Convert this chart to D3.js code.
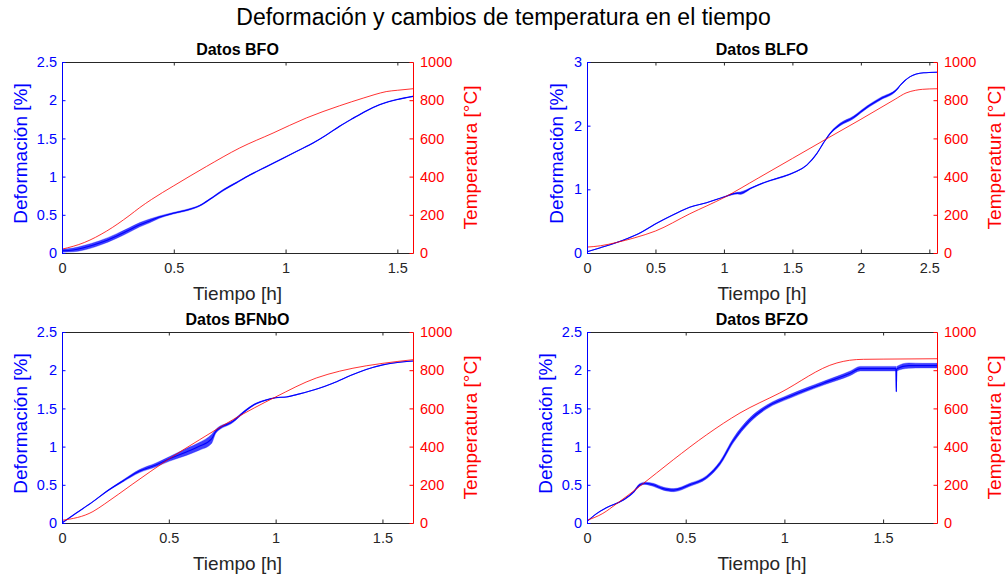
<!DOCTYPE html>
<html>
<head>
<meta charset="utf-8">
<script src="https://cdn.jsdelivr.net/npm/d3@7"></script>
<style>
  body { margin: 0; background: #fff; }
  svg { display: block; font-family: "Liberation Sans", Arial, Helvetica, sans-serif; }
</style>
</head>
<body>
<svg id="chart" width="1007" height="578"></svg>
<script>
// ---- Medidas: [tiempo (h), deformación (%), dispersión del ruido (%)] ----
const bfoDeformacion = [
  [0, 0.03, 0.02], [0.05, 0.04, 0.025], [0.093, 0.065, 0.03], [0.168, 0.13, 0.03],
  [0.243, 0.22, 0.03], [0.3, 0.3, 0.03], [0.348, 0.37, 0.028], [0.392, 0.42, 0.025],
  [0.436, 0.47, 0.015], [0.497, 0.52, 0.01], [0.556, 0.56, 0.01], [0.616, 0.62, 0.008],
  [0.67, 0.72, 0.008], [0.72, 0.82, 0.01], [0.78, 0.92, 0.008], [0.84, 1.02, 0.006],
  [0.914, 1.13, 0.005], [0.989, 1.24, 0.004], [1.056, 1.34, 0.004], [1.123, 1.44, 0.004],
  [1.18, 1.54, 0.004], [1.242, 1.66, 0.004], [1.3, 1.76, 0.004], [1.361, 1.86, 0.004],
  [1.42, 1.94, 0.004], [1.46, 1.98, 0.004], [1.5, 2.01, 0.004], [1.57, 2.05, 0.004]
];
const blfoDeformacion = [
  [0, 0.02, 0], [0.093, 0.08, 0], [0.263, 0.2, 0], [0.4, 0.33, 0], [0.495, 0.45, 0],
  [0.63, 0.6, 0], [0.75, 0.72, 0], [0.873, 0.79, 0], [1.0, 0.88, 0.005], [1.1, 0.94, 0.015],
  [1.12, 0.94, 0.02], [1.2, 1.02, 0.008], [1.312, 1.12, 0.005], [1.434, 1.2, 0.008],
  [1.507, 1.26, 0.005], [1.605, 1.38, 0], [1.678, 1.56, 0], [1.727, 1.73, 0],
  [1.776, 1.88, 0.01], [1.849, 2.02, 0.02], [1.946, 2.13, 0.02], [2.0, 2.22, 0.02],
  [2.044, 2.29, 0.02], [2.141, 2.42, 0.02], [2.263, 2.57, 0.01], [2.29, 2.64, 0],
  [2.36, 2.77, 0], [2.458, 2.83, 0], [2.556, 2.84, 0]
];
const bfnboDeformacion = [
  [0, 0.0, 0], [0.067, 0.13, 0], [0.145, 0.28, 0], [0.207, 0.41, 0.005], [0.285, 0.55, 0.012],
  [0.363, 0.68, 0.02], [0.44, 0.76, 0.025], [0.504, 0.84, 0.03], [0.582, 0.93, 0.045],
  [0.64, 1.0, 0.05], [0.7, 1.1, 0.06], [0.72, 1.2, 0.025], [0.8, 1.33, 0.015],
  [0.85, 1.45, 0.012], [0.9, 1.55, 0.008], [0.956, 1.61, 0.005], [1.0, 1.64, 0.003],
  [1.05, 1.65, 0], [1.112, 1.69, 0], [1.2, 1.76, 0], [1.268, 1.83, 0], [1.35, 1.93, 0],
  [1.424, 2.01, 0], [1.502, 2.07, 0], [1.643, 2.12, 0]
];
const bfzoDeformacion = [
  [0, 0.02, 0], [0.047, 0.12, 0], [0.098, 0.2, 0], [0.183, 0.3, 0.005], [0.234, 0.4, 0.01],
  [0.267, 0.5, 0.015], [0.293, 0.52, 0.015], [0.335, 0.5, 0.02], [0.386, 0.45, 0.02],
  [0.44, 0.43, 0.02], [0.521, 0.5, 0.02], [0.606, 0.6, 0.02], [0.673, 0.78, 0.025],
  [0.741, 1.08, 0.03], [0.826, 1.35, 0.03], [0.911, 1.52, 0.025], [1.029, 1.66, 0.025],
  [1.198, 1.83, 0.025], [1.334, 1.96, 0.03], [1.384, 2.02, 0.03], [1.5, 2.02, 0.03],
  [1.565, 2.02, 0.03], [1.567, 1.72, 0], [1.569, 2.02, 0.03], [1.63, 2.06, 0.035],
  [1.7, 2.06, 0.03], [1.773, 2.06, 0.03]
];

// ---- Medidas: [tiempo (h), temperatura (°C)] ----
const bfoTemperatura = [
  [0, 20], [0.1, 55], [0.2, 115], [0.3, 195], [0.348, 238], [0.4, 280], [0.5, 352],
  [0.646, 453], [0.795, 550], [0.944, 628], [1.093, 707], [1.242, 771], [1.35, 812],
  [1.4, 830], [1.45, 845], [1.5, 852], [1.57, 860]
];
const blfoTemperatura = [
  [0, 31], [0.1, 38], [0.215, 55], [0.35, 80], [0.5, 115], [0.75, 205], [1.0, 290],
  [1.25, 392], [1.5, 495], [1.75, 598], [2.0, 700], [2.25, 805], [2.33, 838],
  [2.4, 852], [2.45, 857], [2.556, 860]
];
const bfnboTemperatura = [
  [0, 14], [0.145, 60], [0.2, 100], [0.332, 205], [0.5, 335], [0.644, 436], [0.8, 541],
  [1.0, 660], [1.19, 759], [1.3, 795], [1.424, 823], [1.502, 836], [1.643, 855]
];
const bfzoTemperatura = [
  [0, 14], [0.08, 50], [0.149, 100], [0.267, 192], [0.437, 331], [0.606, 462],
  [0.775, 576], [0.977, 681], [1.266, 838], [1.33, 852], [1.4, 857], [1.5, 858], [1.773, 860]
];

// ---- Títulos, rangos y marcas de los ejes ----
const titulos = ["Datos BFO", "Datos BLFO", "Datos BFNbO", "Datos BFZO"];
const tiempoMax = [1.57, 2.556, 1.643, 1.773];
const deformacionMax = [2.5, 3, 2.5, 2.5];
const ticksTiempo = [
  [0, 0.5, 1, 1.5],
  [0, 0.5, 1, 1.5, 2, 2.5],
  [0, 0.5, 1, 1.5],
  [0, 0.5, 1, 1.5]
];
const ticksDeformacion = [
  [0, 0.5, 1, 1.5, 2, 2.5],
  [0, 1, 2, 3],
  [0, 0.5, 1, 1.5, 2, 2.5],
  [0, 0.5, 1, 1.5, 2, 2.5]
];
const ticksTemperatura = [0, 200, 400, 600, 800, 1000];
const temperaturaMax = 1000;
const deformaciones = [bfoDeformacion, blfoDeformacion, bfnboDeformacion, bfzoDeformacion];
const temperaturas = [bfoTemperatura, blfoTemperatura, bfnboTemperatura, bfzoTemperatura];

// ---- Disposición de los cuatro paneles ----
const cajas = [
  { x0: 62, x1: 413, y0: 62, y1: 253, etiquetaIzq: 35 },
  { x0: 587, x1: 937, y0: 62, y1: 253, etiquetaIzq: 24 },
  { x0: 62, x1: 413, y0: 332, y1: 523, etiquetaIzq: 35 },
  { x0: 587, x1: 937, y0: 332, y1: 523, etiquetaIzq: 35 }
];

const AZUL = "#0000ff";
const ROJO = "#ff0000";
const GRIS = "#262626";
const fmt = d => String(d);

const svg = d3.select("#chart");

svg.append("text")
  .attr("x", 503.5).attr("y", 25)
  .attr("text-anchor", "middle")
  .attr("font-size", 23)
  .attr("fill", "#000")
  .text("Deformación y cambios de temperatura en el tiempo");

cajas.forEach((c, i) => {
  const g = svg.append("g");
  const x = d3.scaleLinear().domain([0, tiempoMax[i]]).range([c.x0, c.x1]);
  const yL = d3.scaleLinear().domain([0, deformacionMax[i]]).range([c.y1, c.y0]);
  const yR = d3.scaleLinear().domain([0, temperaturaMax]).range([c.y1, c.y0]);

  // fondo del área de trazado
  g.append("rect").attr("x", c.x0).attr("y", c.y0)
    .attr("width", c.x1 - c.x0).attr("height", c.y1 - c.y0).attr("fill", "#fff");

  const clipId = "clip" + i;
  g.append("clipPath").attr("id", clipId).append("rect")
    .attr("x", c.x0).attr("y", c.y0 - 2).attr("width", c.x1 - c.x0).attr("height", c.y1 - c.y0 + 4);
  const plot = g.append("g").attr("clip-path", `url(#${clipId})`);

  // banda de ruido de la deformación
  const banda = d3.area()
    .x(d => x(d[0])).y0(d => yL(d[1] - d[2])).y1(d => yL(d[1] + d[2]))
    .curve(d3.curveMonotoneX);
  plot.append("path").datum(deformaciones[i])
    .attr("d", banda).attr("fill", AZUL).attr("fill-opacity", 0.75)
    .attr("stroke", AZUL).attr("stroke-width", 0.6).attr("stroke-opacity", 0.5);

  // curva de deformación
  plot.append("path").datum(deformaciones[i])
    .attr("d", d3.line().x(d => x(d[0])).y(d => yL(d[1])).curve(d3.curveMonotoneX))
    .attr("fill", "none").attr("stroke", AZUL).attr("stroke-width", 1.1);

  // curva de temperatura
  plot.append("path").datum(temperaturas[i])
    .attr("d", d3.line().x(d => x(d[0])).y(d => yR(d[1])).curve(d3.curveMonotoneX))
    .attr("fill", "none").attr("stroke", ROJO).attr("stroke-width", 1).attr("stroke-opacity", 0.8);

  // eje inferior
  const ejeX = g.append("g").attr("transform", `translate(0,${c.y1})`)
    .call(d3.axisBottom(x).tickValues(ticksTiempo[i]).tickFormat(fmt)
      .tickSizeInner(-3.5).tickSizeOuter(0).tickPadding(10));
  ejeX.select(".domain").attr("stroke", GRIS);
  ejeX.selectAll(".tick line").attr("stroke", GRIS);
  ejeX.selectAll(".tick text").attr("fill", GRIS).attr("font-size", 14.5).attr("font-family", null);

  // eje superior (solo marcas)
  const ejeTop = g.append("g").attr("transform", `translate(0,${c.y0})`)
    .call(d3.axisTop(x).tickValues(ticksTiempo[i]).tickFormat("")
      .tickSizeInner(-3.5).tickSizeOuter(0));
  ejeTop.select(".domain").attr("stroke", GRIS);
  ejeTop.selectAll(".tick line").attr("stroke", GRIS);

  // eje izquierdo: deformación
  const ejeL = g.append("g").attr("transform", `translate(${c.x0},0)`)
    .call(d3.axisLeft(yL).tickValues(ticksDeformacion[i]).tickFormat(fmt)
      .tickSizeInner(-3.5).tickSizeOuter(0).tickPadding(5));
  ejeL.select(".domain").attr("stroke", AZUL);
  ejeL.selectAll(".tick line").attr("stroke", AZUL);
  ejeL.selectAll(".tick text").attr("fill", AZUL).attr("font-size", 14.5).attr("font-family", null);

  // eje derecho: temperatura
  const ejeR = g.append("g").attr("transform", `translate(${c.x1},0)`)
    .call(d3.axisRight(yR).tickValues(ticksTemperatura).tickFormat(fmt)
      .tickSizeInner(-3.5).tickSizeOuter(0).tickPadding(7));
  ejeR.select(".domain").attr("stroke", ROJO);
  ejeR.selectAll(".tick line").attr("stroke", ROJO);
  ejeR.selectAll(".tick text").attr("fill", ROJO).attr("font-size", 14.5).attr("font-family", null);

  // título del panel
  g.append("text")
    .attr("x", (c.x0 + c.x1) / 2).attr("y", c.y0 - 7)
    .attr("text-anchor", "middle").attr("font-size", 16).attr("font-weight", "bold")
    .attr("fill", "#000").text(titulos[i]);

  // etiquetas de los ejes
  g.append("text")
    .attr("x", (c.x0 + c.x1) / 2).attr("y", c.y1 + 47)
    .attr("text-anchor", "middle").attr("font-size", 19).attr("fill", GRIS)
    .text("Tiempo [h]");

  const cy = (c.y0 + c.y1) / 2 - 4;
  g.append("text")
    .attr("transform", `translate(${c.x0 - c.etiquetaIzq},${cy}) rotate(-90)`)
    .attr("text-anchor", "middle").attr("font-size", 19).attr("fill", AZUL)
    .text("Deformación [%]");

  g.append("text")
    .attr("transform", `translate(${c.x1 + 64},${(c.y0 + c.y1) / 2})rotate(-90)`)
    .attr("text-anchor", "middle").attr("font-size", 19).attr("fill", ROJO)
    .text("Temperatura [°C]");
});
</script>
</body>
</html>
